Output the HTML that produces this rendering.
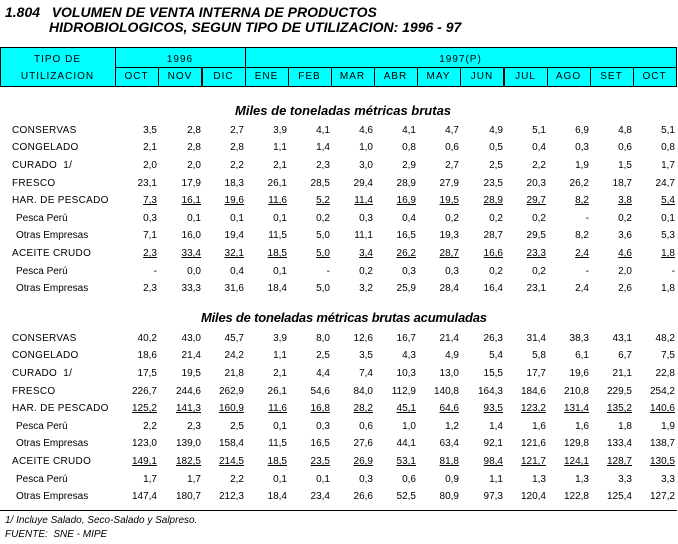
<!DOCTYPE html>
<html><head><meta charset="utf-8"><style>
body{margin:0;width:678px;height:544px;background:#fff;position:relative;overflow:hidden;font-family:"Liberation Sans",Arial,sans-serif;color:#000}
.a{position:absolute;white-space:nowrap}
.t{font-weight:bold;font-style:italic;font-size:14px;line-height:16px}
.t2{font-weight:bold;font-style:italic;font-size:13px;line-height:16px}
.hd{position:absolute;left:0;top:47px;height:40px;background:#00ffff;border:1px solid #000;box-sizing:border-box;width:677px}
.v{position:absolute;background:#000;width:1px}
.h{position:absolute;background:#000;height:1px}
.ht{position:absolute;font-size:10px;letter-spacing:1px;text-align:center;line-height:12px}
table{position:absolute;left:0;border-collapse:collapse;font-size:10px;line-height:12px;table-layout:fixed;width:676px}
td{padding:0 1px 0 0;text-align:right;box-sizing:border-box;white-space:nowrap;overflow:visible}
td:first-child{text-align:left;padding:0 0 0 12px;letter-spacing:0.3px}
td.s{padding-left:16px;letter-spacing:0}
tr{height:17.6px}
tr.u td{text-decoration:underline}
tr.u td:first-child{text-decoration:none}
</style></head><body>
<div class="a t" style="left:5px;top:4px">1.804&nbsp;&nbsp; VOLUMEN DE VENTA INTERNA DE PRODUCTOS</div>
<div class="a t" style="left:49px;top:19px">HIDROBIOLOGICOS, SEGUN TIPO DE UTILIZACION: 1996 - 97</div>

<div class="hd"></div>
<div class="h" style="left:115px;top:67px;width:561px"></div>
<div class="v" style="left:115px;top:47px;height:40px"></div>
<div class="v" style="left:245px;top:47px;height:40px"></div>
<div class="v" style="left:158px;top:67px;height:20px"></div>
<div class="v" style="left:201px;top:67px;height:20px;width:2px"></div>
<div class="v" style="left:288px;top:67px;height:20px"></div>
<div class="v" style="left:331px;top:67px;height:20px"></div>
<div class="v" style="left:374px;top:67px;height:20px"></div>
<div class="v" style="left:417px;top:67px;height:20px"></div>
<div class="v" style="left:460px;top:67px;height:20px"></div>
<div class="v" style="left:503px;top:67px;height:20px;width:2px"></div>
<div class="v" style="left:547px;top:67px;height:20px"></div>
<div class="v" style="left:590px;top:67px;height:20px"></div>
<div class="v" style="left:633px;top:67px;height:20px"></div>
<div class="ht" style="left:0;width:115px;top:54px">TIPO DE</div>
<div class="ht" style="left:0;width:115px;top:71px">UTILIZACION</div>
<div class="ht" style="left:115px;width:130px;top:54px">1996</div>
<div class="ht" style="left:245px;width:431px;top:54px">1997(P)</div>
<div class="ht" style="left:115px;width:43px;top:71px">OCT</div>
<div class="ht" style="left:158px;width:44px;top:71px">NOV</div>
<div class="ht" style="left:202px;width:43px;top:71px">DIC</div>
<div class="ht" style="left:245px;width:43px;top:71px">ENE</div>
<div class="ht" style="left:288px;width:43px;top:71px">FEB</div>
<div class="ht" style="left:331px;width:43px;top:71px">MAR</div>
<div class="ht" style="left:374px;width:43px;top:71px">ABR</div>
<div class="ht" style="left:417px;width:43px;top:71px">MAY</div>
<div class="ht" style="left:460px;width:44px;top:71px">JUN</div>
<div class="ht" style="left:504px;width:43px;top:71px">JUL</div>
<div class="ht" style="left:547px;width:43px;top:71px">AGO</div>
<div class="ht" style="left:590px;width:43px;top:71px">SET</div>
<div class="ht" style="left:633px;width:43px;top:71px">OCT</div>

<div class="a t2" style="left:235px;top:103px">Miles de toneladas métricas brutas</div>
<table style="top:122px">
<colgroup><col style="width:115px"><col style="width:43px"><col style="width:44px"><col style="width:43px"><col style="width:43px"><col style="width:43px"><col style="width:43px"><col style="width:43px"><col style="width:43px"><col style="width:44px"><col style="width:43px"><col style="width:43px"><col style="width:43px"><col style="width:43px"></colgroup>
<tr><td>CONSERVAS</td><td>3,5</td><td>2,8</td><td>2,7</td><td>3,9</td><td>4,1</td><td>4,6</td><td>4,1</td><td>4,7</td><td>4,9</td><td>5,1</td><td>6,9</td><td>4,8</td><td>5,1</td></tr>
<tr><td>CONGELADO</td><td>2,1</td><td>2,8</td><td>2,8</td><td>1,1</td><td>1,4</td><td>1,0</td><td>0,8</td><td>0,6</td><td>0,5</td><td>0,4</td><td>0,3</td><td>0,6</td><td>0,8</td></tr>
<tr><td>CURADO&nbsp; 1/</td><td>2,0</td><td>2,0</td><td>2,2</td><td>2,1</td><td>2,3</td><td>3,0</td><td>2,9</td><td>2,7</td><td>2,5</td><td>2,2</td><td>1,9</td><td>1,5</td><td>1,7</td></tr>
<tr><td>FRESCO</td><td>23,1</td><td>17,9</td><td>18,3</td><td>26,1</td><td>28,5</td><td>29,4</td><td>28,9</td><td>27,9</td><td>23,5</td><td>20,3</td><td>26,2</td><td>18,7</td><td>24,7</td></tr>
<tr class="u"><td>HAR. DE PESCADO</td><td>7,3</td><td>16,1</td><td>19,6</td><td>11,6</td><td>5,2</td><td>11,4</td><td>16,9</td><td>19,5</td><td>28,9</td><td>29,7</td><td>8,2</td><td>3,8</td><td>5,4</td></tr>
<tr><td class="s">Pesca Perú</td><td>0,3</td><td>0,1</td><td>0,1</td><td>0,1</td><td>0,2</td><td>0,3</td><td>0,4</td><td>0,2</td><td>0,2</td><td>0,2</td><td>-</td><td>0,2</td><td>0,1</td></tr>
<tr><td class="s">Otras Empresas</td><td>7,1</td><td>16,0</td><td>19,4</td><td>11,5</td><td>5,0</td><td>11,1</td><td>16,5</td><td>19,3</td><td>28,7</td><td>29,5</td><td>8,2</td><td>3,6</td><td>5,3</td></tr>
<tr class="u"><td>ACEITE CRUDO</td><td>2,3</td><td>33,4</td><td>32,1</td><td>18,5</td><td>5,0</td><td>3,4</td><td>26,2</td><td>28,7</td><td>16,6</td><td>23,3</td><td>2,4</td><td>4,6</td><td>1,8</td></tr>
<tr><td class="s">Pesca Perú</td><td>-</td><td>0,0</td><td>0,4</td><td>0,1</td><td>-</td><td>0,2</td><td>0,3</td><td>0,3</td><td>0,2</td><td>0,2</td><td>-</td><td>2,0</td><td>-</td></tr>
<tr><td class="s">Otras Empresas</td><td>2,3</td><td>33,3</td><td>31,6</td><td>18,4</td><td>5,0</td><td>3,2</td><td>25,9</td><td>28,4</td><td>16,4</td><td>23,1</td><td>2,4</td><td>2,6</td><td>1,8</td></tr>
</table>

<div class="a t2" style="left:201px;top:310px;letter-spacing:-0.2px">Miles de toneladas métricas brutas acumuladas</div>
<table style="top:330px">
<colgroup><col style="width:115px"><col style="width:43px"><col style="width:44px"><col style="width:43px"><col style="width:43px"><col style="width:43px"><col style="width:43px"><col style="width:43px"><col style="width:43px"><col style="width:44px"><col style="width:43px"><col style="width:43px"><col style="width:43px"><col style="width:43px"></colgroup>
<tr><td>CONSERVAS</td><td>40,2</td><td>43,0</td><td>45,7</td><td>3,9</td><td>8,0</td><td>12,6</td><td>16,7</td><td>21,4</td><td>26,3</td><td>31,4</td><td>38,3</td><td>43,1</td><td>48,2</td></tr>
<tr><td>CONGELADO</td><td>18,6</td><td>21,4</td><td>24,2</td><td>1,1</td><td>2,5</td><td>3,5</td><td>4,3</td><td>4,9</td><td>5,4</td><td>5,8</td><td>6,1</td><td>6,7</td><td>7,5</td></tr>
<tr><td>CURADO&nbsp; 1/</td><td>17,5</td><td>19,5</td><td>21,8</td><td>2,1</td><td>4,4</td><td>7,4</td><td>10,3</td><td>13,0</td><td>15,5</td><td>17,7</td><td>19,6</td><td>21,1</td><td>22,8</td></tr>
<tr><td>FRESCO</td><td>226,7</td><td>244,6</td><td>262,9</td><td>26,1</td><td>54,6</td><td>84,0</td><td>112,9</td><td>140,8</td><td>164,3</td><td>184,6</td><td>210,8</td><td>229,5</td><td>254,2</td></tr>
<tr class="u"><td>HAR. DE PESCADO</td><td>125,2</td><td>141,3</td><td>160,9</td><td>11,6</td><td>16,8</td><td>28,2</td><td>45,1</td><td>64,6</td><td>93,5</td><td>123,2</td><td>131,4</td><td>135,2</td><td>140,6</td></tr>
<tr><td class="s">Pesca Perú</td><td>2,2</td><td>2,3</td><td>2,5</td><td>0,1</td><td>0,3</td><td>0,6</td><td>1,0</td><td>1,2</td><td>1,4</td><td>1,6</td><td>1,6</td><td>1,8</td><td>1,9</td></tr>
<tr><td class="s">Otras Empresas</td><td>123,0</td><td>139,0</td><td>158,4</td><td>11,5</td><td>16,5</td><td>27,6</td><td>44,1</td><td>63,4</td><td>92,1</td><td>121,6</td><td>129,8</td><td>133,4</td><td>138,7</td></tr>
<tr class="u"><td>ACEITE CRUDO</td><td>149,1</td><td>182,5</td><td>214,5</td><td>18,5</td><td>23,5</td><td>26,9</td><td>53,1</td><td>81,8</td><td>98,4</td><td>121,7</td><td>124,1</td><td>128,7</td><td>130,5</td></tr>
<tr><td class="s">Pesca Perú</td><td>1,7</td><td>1,7</td><td>2,2</td><td>0,1</td><td>0,1</td><td>0,3</td><td>0,6</td><td>0,9</td><td>1,1</td><td>1,3</td><td>1,3</td><td>3,3</td><td>3,3</td></tr>
<tr><td class="s">Otras Empresas</td><td>147,4</td><td>180,7</td><td>212,3</td><td>18,4</td><td>23,4</td><td>26,6</td><td>52,5</td><td>80,9</td><td>97,3</td><td>120,4</td><td>122,8</td><td>125,4</td><td>127,2</td></tr>
</table>

<div class="h" style="left:0;top:510px;width:677px"></div>
<div class="a" style="left:5px;top:515px;font-size:10px;font-style:italic">1/ Incluye Salado, Seco-Salado y Salpreso.</div>
<div class="a" style="left:5px;top:529px;font-size:10px;font-style:italic">FUENTE:&nbsp; SNE - MIPE</div>
</body></html>
